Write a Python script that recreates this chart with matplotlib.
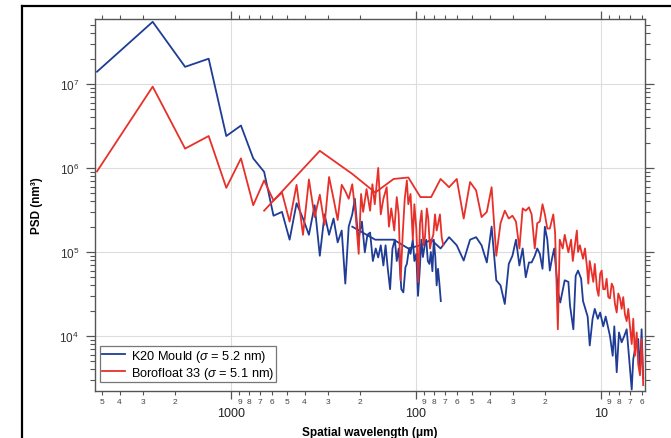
import numpy as np
import matplotlib
matplotlib.use('Agg')
import matplotlib.pyplot as plt
from matplotlib.ticker import LogLocator, FuncFormatter, NullFormatter, FixedLocator
from matplotlib.lines import Line2D

# ---- data (spatial wavelength in µm, PSD in nm^3) ----
# K20 Mould: long scan and short scan
blue_long_wl = [5300, 2650, 1770, 1320, 1060, 883, 758, 662, 589, 530, 482, 442, 408, 379, 353, 331, 312, 295,
                279, 265, 252, 241, 231, 221, 214, 205, 196, 189, 183, 177, 171, 165, 160, 155, 150, 146, 142,
                138, 134, 130, 127, 124, 120, 117, 114, 112, 109, 107, 104, 102, 99.6, 97.5, 95.5, 93.5, 91.7,
                89.7, 88.0, 86.3, 84.6, 83.1, 81.5, 80.1, 78.6, 77.3, 76.0, 74.7, 73.4]
blue_long_psd = [1.4e7, 5.5e7, 1.6e7, 2.0e7, 2.4e6, 3.2e6, 1.3e6, 9.0e5, 2.7e5, 3.0e5, 1.4e5, 3.8e5, 2.5e5,
                 1.6e5, 3.6e5, 9.0e4, 2.8e5, 1.6e5, 2.5e5, 1.3e5, 1.8e5, 4.2e4, 2.0e5, 2.8e5, 4.3e5, 1.4e5,
                 2.3e5, 9.9e4, 1.6e5, 1.7e5, 7.8e4, 1.1e5, 8.6e4, 1.2e5, 6.9e4, 1.2e5, 6.3e4, 3.6e4, 1.1e5,
                 1.4e5, 7.8e4, 1.1e5, 3.6e4, 3.3e4, 6.6e4, 7.2e4, 1.1e5, 9.5e4, 1.4e5, 7.8e4, 9.5e4, 3.0e4,
                 5.9e4, 1.4e5, 8.7e4, 1.2e5, 1.4e5, 7.8e4, 7.2e4, 1.0e5, 5.9e4, 1.4e5, 8.7e4, 4.0e4, 6.3e4,
                 4.2e4, 2.6e4]
blue_short_wl = [221, 166, 132, 110, 94.6, 82.8, 73.6, 66.2, 60.2, 55.2, 51.0, 47.3, 44.2, 41.4, 39.0, 36.8,
                 34.9, 33.1, 31.5, 30.1, 28.8, 27.6, 26.5, 25.5, 24.5, 23.7, 22.8, 22.1, 21.4, 20.7, 20.1, 19.5,
                 18.9, 18.4, 17.9, 17.4, 17.0, 16.6, 15.7, 15.0, 14.7, 14.1, 13.7, 13.3, 12.8, 12.5, 11.8, 11.5,
                 11.1, 10.8, 10.4, 10.1, 9.72, 9.43, 8.94, 8.64, 8.47, 8.22, 7.99, 7.73, 7.48, 7.26, 7.06, 6.82,
                 6.69, 6.49, 6.29, 6.15, 6.03, 5.91]
blue_short_psd = [2.0e5, 1.4e5, 1.4e5, 1.1e5, 1.2e5, 1.4e5, 1.1e5, 1.5e5, 1.2e5, 7.9e4, 1.4e5, 1.5e5, 1.2e5,
                  7.5e4, 2.0e5, 4.6e4, 4.0e4, 2.4e4, 7.2e4, 9.0e4, 1.4e5, 6.9e4, 1.1e5, 5.0e4, 7.5e4, 7.5e4,
                  9.0e4, 1.1e5, 9.5e4, 6.3e4, 2.0e5, 1.4e5, 6.0e4, 8.3e4, 1.1e5, 5.5e4, 3.2e4, 2.5e4, 4.6e4,
                  4.4e4, 2.3e4, 1.2e4, 5.2e4, 6.0e4, 4.8e4, 2.6e4, 1.7e4, 7.7e3, 1.6e4, 2.1e4, 1.6e4, 1.9e4,
                  1.3e4, 1.7e4, 1.0e4, 5.8e3, 1.3e4, 3.7e3, 1.1e4, 8.4e3, 1.0e4, 1.2e4, 5.8e3, 2.3e3, 5.3e3,
                  7.7e3, 9.2e3, 3.7e3, 1.2e4, 3.1e3]

# Borofloat 33: long scan and short scan
red_long_wl = [5300, 2650, 1770, 1320, 1060, 883, 758, 662, 589, 530, 482, 442, 408, 379, 353, 331, 312, 295,
               279, 265, 252, 241, 231, 221, 212, 204, 198, 193, 185, 177, 172, 167, 160, 155, 150, 144, 140,
               136, 131, 127, 124, 121, 118, 115, 112, 110, 107, 104, 102, 99.6, 97.2, 95.1, 93.2, 91.1, 89.4,
               87.4, 85.8, 84.0, 82.2, 80.6, 78.9, 77.3, 75.8, 74.2, 72.6, 71.2]
red_long_psd = [9.1e5, 9.3e6, 1.7e6, 2.4e6, 5.8e5, 1.3e6, 3.6e5, 7.1e5, 4.1e5, 5.1e5, 2.3e5, 6.3e5, 1.6e5,
                7.3e5, 2.6e5, 4.8e5, 2.1e5, 7.8e5, 4.3e5, 2.4e5, 6.3e5, 5.3e5, 4.3e5, 6.4e5, 2.8e5, 9.5e4,
                4.9e5, 3.0e5, 5.6e5, 3.1e5, 6.4e5, 3.7e5, 1.0e6, 2.8e5, 4.3e5, 5.9e5, 2.0e5, 3.3e5, 1.8e5,
                4.5e5, 2.8e5, 4.6e4, 1.6e5, 4.3e5, 7.1e5, 3.7e5, 4.9e5, 1.4e5, 3.7e5, 1.9e5, 4.4e4, 2.2e5,
                3.1e5, 1.2e5, 1.5e5, 3.3e5, 2.5e5, 1.1e5, 1.4e5, 1.6e5, 2.8e5, 1.8e5, 2.2e5, 2.8e5, 1.5e5,
                1.2e5]
red_short_wl = [662, 331, 221, 166, 132, 110, 94.6, 82.8, 73.6, 66.2, 60.2, 55.2, 51.0, 47.3, 44.2, 41.4,
                39.0, 36.8, 34.9, 33.1, 31.5, 30.1, 28.8, 27.6, 26.5, 25.5, 24.5, 23.7, 22.8, 22.1, 21.4, 20.7,
                20.1, 19.5, 18.9, 18.1, 17.7, 17.1, 16.7, 16.1, 15.7, 15.0, 14.5, 14.2, 13.5, 13.3, 13.0, 12.5,
                12.2, 11.9, 11.7, 11.5, 11.0, 10.8, 10.5, 10.3, 10.1, 9.91, 9.72, 9.51, 9.32, 9.13, 8.94, 8.75,
                8.58, 8.40, 8.22, 8.06, 7.89, 7.73, 7.58, 7.42, 7.26, 7.12, 6.97, 6.82, 6.69, 6.55, 6.41, 6.29,
                6.15, 6.03, 5.91]
red_short_psd = [3.1e5, 1.6e6, 8.5e5, 5.1e5, 7.4e5, 7.7e5, 4.5e5, 4.5e5, 7.4e5, 5.9e5, 7.4e5, 2.5e5, 6.8e5,
                 5.4e5, 2.6e5, 3.0e5, 5.9e5, 9.0e4, 2.2e5, 3.1e5, 2.5e5, 2.7e5, 2.3e5, 1.1e5, 3.3e5, 3.1e5,
                 3.4e5, 2.8e5, 1.1e5, 2.2e5, 2.3e5, 3.7e5, 2.8e5, 1.9e5, 1.9e5, 2.8e5, 1.7e5, 1.2e4, 1.4e5,
                 1.1e5, 1.6e5, 9.9e4, 1.4e5, 7.8e4, 1.8e5, 1.0e5, 1.2e5, 8.3e4, 1.1e5, 6.6e4, 4.2e4, 7.8e4,
                 4.4e4, 7.2e4, 3.6e4, 3.0e4, 5.5e4, 6.0e4, 3.6e4, 3.6e4, 4.8e4, 2.9e4, 2.8e4, 4.2e4, 3.8e4,
                 2.4e4, 1.9e4, 3.2e4, 2.8e4, 2.1e4, 2.9e4, 1.8e4, 1.5e4, 2.1e4, 1.3e4, 8.0e3, 1.6e4, 5.8e3,
                 1.1e4, 4.6e3, 3.4e3, 9.2e3, 2.6e3]

series_labels = ['K20 Mould ($\\it{\\sigma}$ = 5.2 nm)', 'Borofloat 33 ($\\it{\\sigma}$ = 5.1 nm)']
x_major_ticks = [1000, 100, 10]

# ---- style ----
plt.rcParams['font.family'] = ['Liberation Sans', 'DejaVu Sans']
plt.rcParams['mathtext.fontset'] = 'custom'
plt.rcParams['mathtext.rm'] = 'Liberation Sans'
plt.rcParams['mathtext.it'] = 'Liberation Sans:italic'

fig = plt.figure(figsize=(6.71, 4.39), dpi=100)
ax = fig.add_axes([95/671, 1-392/439, 550/671, 372/439])
BLUE = '#1f3c96'; RED = '#e8302a'
ax.plot(blue_long_wl, blue_long_psd, color=BLUE, lw=1.3, label=series_labels[0])
ax.plot(blue_short_wl, blue_short_psd, color=BLUE, lw=1.3)
ax.plot(red_long_wl, red_long_psd, color=RED, lw=1.3, label=series_labels[1])
ax.plot(red_short_wl, red_short_psd, color=RED, lw=1.3)

ax.set_xscale('log'); ax.set_yscale('log')
ax.set_xlim(5433, 5.78); ax.set_ylim(2.21e3, 5.94e7)

def minor_fmt(v, p):
    d = v / 10 ** np.floor(np.log10(v) + 1e-9)
    return str(int(round(d)))
ax.xaxis.set_major_locator(FixedLocator(x_major_ticks))
ax.xaxis.set_minor_locator(LogLocator(base=10, subs=np.arange(2, 10), numticks=30))
ax.xaxis.set_major_formatter(FuncFormatter(lambda v, p: f'{v:g}'))
ax.xaxis.set_minor_formatter(FuncFormatter(minor_fmt))
ax.yaxis.set_major_locator(LogLocator(base=10, numticks=30))
ax.yaxis.set_minor_locator(LogLocator(base=10, subs=np.arange(2, 10), numticks=30))
ax.yaxis.set_major_formatter(FuncFormatter(lambda v, p: f'$10^{{{int(round(np.log10(v)))}}}$'))
ax.yaxis.set_minor_formatter(NullFormatter())

sc = '#555555'
ax.tick_params(axis='x', which='major', direction='out', length=6, width=0.9, color=sc, labelsize=9, pad=5.5, top=True, labelcolor='#222222')
ax.tick_params(axis='x', which='minor', direction='out', length=3, width=0.8, color=sc, labelsize=6, pad=2, top=True, labelcolor='#444444')
ax.tick_params(axis='y', which='major', direction='out', length=6.5, width=0.9, color=sc, labelsize=8.5, pad=5, right=True, labelcolor='#333333')
ax.tick_params(axis='y', which='minor', direction='out', length=3.5, width=0.8, color=sc, right=True)
for s in ax.spines.values():
    s.set_color(sc); s.set_linewidth(1.0)
ax.grid(True, which='major', color='#dddddd', lw=0.8)
ax.set_axisbelow(True)

leg = ax.legend(loc='lower left', bbox_to_anchor=(0.009, 0.023), borderaxespad=0, fontsize=9.2,
                frameon=True, fancybox=False, edgecolor='#555555', handlelength=1.8, handletextpad=0.5,
                borderpad=0.15, labelspacing=0.05)
leg.get_frame().set_linewidth(0.9)

ax.set_xlabel('Spatial wavelength (μm)', fontsize=8.5, fontweight='bold')
ax.xaxis.set_label_coords(0.5, -0.094)
ax.set_ylabel('PSD (nm³)', fontsize=8.5, fontweight='bold')
ax.yaxis.set_label_coords(-0.0945, 0.5)

fig.add_artist(Line2D([22/671, 22/671], [0, 1-7/439], color='black', lw=1.6, transform=fig.transFigure))
fig.add_artist(Line2D([22/671, 1], [1-7/439, 1-7/439], color='black', lw=1.6, transform=fig.transFigure))

fig.savefig('out.png', dpi=100)
